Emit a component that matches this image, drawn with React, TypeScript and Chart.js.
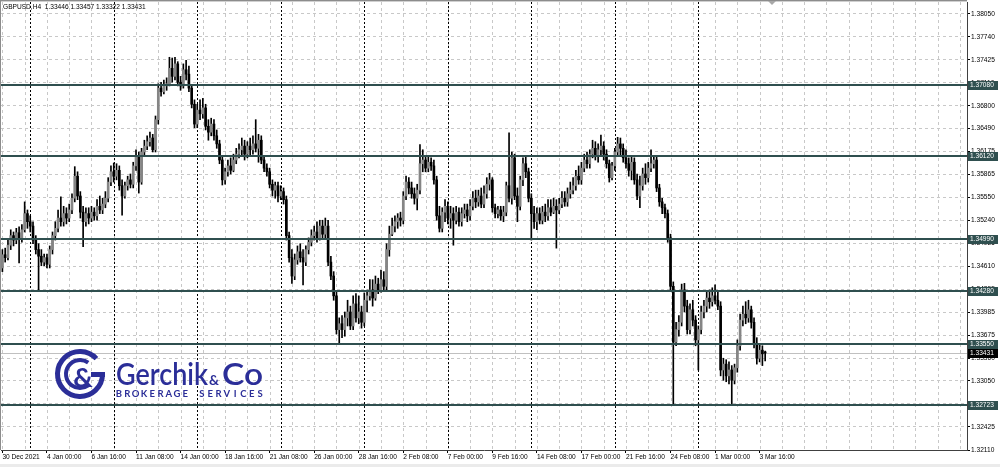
import React, { useEffect, useRef } from 'react';
import { Chart, registerables } from 'chart.js';

Chart.register(...registerables);

const titleText = 'GBPUSD,H4  1.33446 1.33457 1.33322 1.33431';

const opens = [
  1.3459,1.3477,1.3473,1.3490,1.3503,1.3497,1.3507,1.3500,1.3511,1.3533,
  1.3522,1.3516,1.3497,1.3484,1.3475,1.3467,1.3473,1.3464,1.3484,1.3503,
  1.3513,1.3527,1.3522,1.3533,1.3527,1.3538,1.3554,1.3584,1.3557,1.3535,
  1.3522,1.3533,1.3527,1.3535,1.3530,1.3543,1.3538,1.3546,1.3554,1.3576,
  1.3590,1.3584,1.3592,1.3571,1.3557,1.3571,1.3579,1.3573,1.3598,1.3612,
  1.3576,1.3617,1.3625,1.3631,1.3636,1.3620,1.3661,1.3704,1.3699,1.3707,
  1.3710,1.3731,1.3720,1.3737,1.3712,1.3707,1.3729,1.3723,1.3704,1.3682,
  1.3655,1.3674,1.3669,1.3677,1.3652,1.3644,1.3655,1.3639,1.3628,1.3606,
  1.3579,1.3590,1.3598,1.3592,1.3606,1.3614,1.3620,1.3625,1.3614,1.3625,
  1.3620,1.3628,1.3622,1.3633,1.3606,1.3595,1.3590,1.3573,1.3565,1.3571,
  1.3557,1.3563,1.3552,1.3503,1.3473,1.3448,1.3470,1.3481,1.3473,1.3467,
  1.3484,1.3494,1.3503,1.3508,1.3500,1.3516,1.3505,1.3516,1.3467,1.3448,
  1.3421,1.3375,1.3383,1.3375,1.3391,1.3399,1.3380,1.3410,1.3391,1.3399,
  1.3385,1.3415,1.3421,1.3429,1.3418,1.3437,1.3429,1.3443,1.3434,1.3484,
  1.3505,1.3516,1.3522,1.3527,1.3524,1.3557,1.3576,1.3568,1.3560,1.3554,
  1.3565,1.3601,1.3606,1.3595,1.3603,1.3598,1.3579,1.3530,1.3513,1.3535,
  1.3543,1.3527,1.3533,1.3524,1.3535,1.3522,1.3533,1.3538,1.3530,1.3543,
  1.3554,1.3549,1.3557,1.3546,1.3560,1.3573,1.3579,1.3541,1.3533,1.3538,
  1.3530,1.3535,1.3571,1.3554,1.3609,1.3557,1.3543,1.3579,1.3601,1.3590,
  1.3554,1.3533,1.3522,1.3533,1.3524,1.3535,1.3530,1.3541,1.3535,1.3543,
  1.3538,1.3546,1.3554,1.3549,1.3560,1.3565,1.3571,1.3584,1.3579,1.3595,
  1.3606,1.3601,1.3614,1.3622,1.3612,1.3620,1.3625,1.3614,1.3601,1.3582,
  1.3598,1.3617,1.3628,1.3622,1.3609,1.3601,1.3592,1.3603,1.3579,1.3557,
  1.3571,1.3587,1.3582,1.3595,1.3601,1.3606,1.3568,1.3549,1.3541,1.3533,
  1.3500,1.3434,1.3358,1.3375,1.3385,1.3429,1.3407,1.3375,1.3402,1.3388,
  1.3361,1.3375,1.3399,1.3407,1.3418,1.3413,1.3421,1.3415,1.3407,1.3320,
  1.3328,1.3312,1.3320,1.3306,1.3323,1.3353,1.3388,1.3396,1.3391,1.3402,
  1.3385,1.3356,1.3336,1.3347,1.33446,
];

const highs = [
  1.3484,1.3486,1.3497,1.3511,1.3508,1.3513,1.3515,1.3518,1.3549,1.3538,
  1.3530,1.3522,1.3503,1.3492,1.3484,1.3478,1.3478,1.3489,1.3508,1.3522,
  1.3538,1.3556,1.3543,1.3541,1.3546,1.3560,1.3597,1.3590,1.3563,1.3543,
  1.3541,1.3541,1.3543,1.3541,1.3552,1.3557,1.3554,1.3563,1.3582,1.3598,
  1.3602,1.3601,1.3598,1.3579,1.3576,1.3584,1.3587,1.3603,1.3620,1.3617,
  1.3622,1.3633,1.3639,1.3644,1.3641,1.3666,1.3710,1.3712,1.3715,1.3718,
  1.3746,1.3745,1.3746,1.3740,1.3720,1.3737,1.3742,1.3734,1.3707,1.3688,
  1.3682,1.3688,1.3690,1.3682,1.3661,1.3663,1.3661,1.3647,1.3633,1.3612,
  1.3595,1.3606,1.3609,1.3614,1.3622,1.3628,1.3636,1.3633,1.3631,1.3636,
  1.3639,1.3661,1.3641,1.3639,1.3612,1.3601,1.3595,1.3579,1.3576,1.3576,
  1.3571,1.3568,1.3557,1.3508,1.3484,1.3478,1.3489,1.3492,1.3484,1.3489,
  1.3500,1.3511,1.3516,1.3522,1.3524,1.3524,1.3527,1.3524,1.3475,1.3454,
  1.3426,1.3391,1.3394,1.3399,1.3415,1.3407,1.3421,1.3424,1.3421,1.3407,
  1.3425,1.3429,1.3443,1.3443,1.3448,1.3445,1.3456,1.3454,1.3492,1.3516,
  1.3527,1.3530,1.3533,1.3535,1.3563,1.3584,1.3582,1.3576,1.3568,1.3573,
  1.3627,1.3620,1.3612,1.3612,1.3609,1.3606,1.3584,1.3543,1.3541,1.3552,
  1.3549,1.3543,1.3541,1.3543,1.3541,1.3541,1.3546,1.3546,1.3552,1.3563,
  1.3565,1.3565,1.3568,1.3571,1.3582,1.3588,1.3582,1.3546,1.3543,1.3543,
  1.3543,1.3576,1.3643,1.3617,1.3614,1.3568,1.3584,1.3609,1.3610,1.3595,
  1.3560,1.3543,1.3541,1.3541,1.3543,1.3546,1.3552,1.3552,1.3554,1.3552,
  1.3554,1.3563,1.3563,1.3568,1.3576,1.3582,1.3592,1.3598,1.3603,1.3614,
  1.3617,1.3620,1.3633,1.3631,1.3628,1.3640,1.3631,1.3620,1.3606,1.3603,
  1.3622,1.3637,1.3636,1.3628,1.3620,1.3609,1.3612,1.3609,1.3587,1.3584,
  1.3595,1.3601,1.3603,1.3620,1.3612,1.3612,1.3573,1.3554,1.3546,1.3538,
  1.3505,1.3440,1.3385,1.3394,1.3437,1.3438,1.3415,1.3410,1.3415,1.3394,
  1.3380,1.3407,1.3415,1.3426,1.3429,1.3432,1.3436,1.3426,1.3413,1.3336,
  1.3334,1.3331,1.3326,1.3328,1.3361,1.3396,1.3407,1.3413,1.3415,1.3407,
  1.3391,1.3364,1.3356,1.3353,1.33457,
];

const lows = [
  1.3454,1.3467,1.3470,1.3484,1.3489,1.3492,1.3466,1.3494,1.3508,1.3513,
  1.3508,1.3492,1.3478,1.3429,1.3462,1.3462,1.3459,1.3459,1.3478,1.3497,
  1.3508,1.3516,1.3516,1.3519,1.3522,1.3533,1.3549,1.3552,1.3527,1.3488,
  1.3516,1.3519,1.3522,1.3524,1.3524,1.3533,1.3533,1.3541,1.3549,1.3571,
  1.3576,1.3579,1.3565,1.3531,1.3554,1.3565,1.3568,1.3568,1.3592,1.3561,
  1.3573,1.3612,1.3620,1.3625,1.3617,1.3617,1.3655,1.3693,1.3696,1.3701,
  1.3707,1.3712,1.3715,1.3707,1.3701,1.3704,1.3715,1.3699,1.3677,1.3650,
  1.3650,1.3661,1.3663,1.3647,1.3633,1.3639,1.3633,1.3622,1.3601,1.3572,
  1.3573,1.3584,1.3587,1.3590,1.3601,1.3609,1.3612,1.3606,1.3609,1.3612,
  1.3614,1.3617,1.3603,1.3601,1.3590,1.3584,1.3568,1.3557,1.3554,1.3549,
  1.3552,1.3546,1.3497,1.3467,1.3438,1.3443,1.3464,1.3467,1.3436,1.3462,
  1.3478,1.3489,1.3497,1.3494,1.3497,1.3500,1.3500,1.3462,1.3443,1.3415,
  1.3369,1.3357,1.3364,1.3366,1.3380,1.3375,1.3375,1.3385,1.3383,1.3377,
  1.3380,1.3399,1.3415,1.3407,1.3415,1.3424,1.3426,1.3429,1.3429,1.3475,
  1.3503,1.3508,1.3513,1.3516,1.3519,1.3552,1.3560,1.3554,1.3546,1.3538,
  1.3560,1.3590,1.3590,1.3590,1.3592,1.3573,1.3524,1.3508,1.3508,1.3522,
  1.3519,1.3513,1.3490,1.3519,1.3516,1.3516,1.3527,1.3522,1.3524,1.3538,
  1.3541,1.3543,1.3541,1.3541,1.3554,1.3565,1.3535,1.3527,1.3527,1.3524,
  1.3522,1.3530,1.3549,1.3546,1.3552,1.3522,1.3538,1.3571,1.3582,1.3549,
  1.3497,1.3513,1.3511,1.3519,1.3519,1.3522,1.3524,1.3530,1.3533,1.3486,
  1.3533,1.3541,1.3543,1.3543,1.3554,1.3560,1.3565,1.3573,1.3573,1.3590,
  1.3595,1.3595,1.3609,1.3606,1.3603,1.3612,1.3606,1.3595,1.3576,1.3579,
  1.3592,1.3612,1.3612,1.3603,1.3595,1.3584,1.3579,1.3573,1.3552,1.3541,
  1.3565,1.3573,1.3576,1.3590,1.3595,1.3563,1.3543,1.3533,1.3527,1.3494,
  1.3429,1.3272,1.3353,1.3366,1.3380,1.3399,1.3369,1.3369,1.3380,1.3353,
  1.3320,1.3369,1.3391,1.3399,1.3404,1.3407,1.3410,1.3402,1.3312,1.3306,
  1.3304,1.3301,1.3272,1.3301,1.3317,1.3347,1.3380,1.3383,1.3385,1.3377,
  1.3350,1.3328,1.3331,1.3326,1.33322,
];

const closes = [
  1.3477,1.3473,1.3490,1.3503,1.3497,1.3507,1.3500,1.3511,1.3533,1.3522,
  1.3516,1.3497,1.3484,1.3475,1.3467,1.3473,1.3464,1.3484,1.3503,1.3513,
  1.3527,1.3522,1.3533,1.3527,1.3538,1.3554,1.3584,1.3557,1.3535,1.3522,
  1.3533,1.3527,1.3535,1.3530,1.3543,1.3538,1.3546,1.3554,1.3576,1.3590,
  1.3584,1.3592,1.3571,1.3557,1.3571,1.3579,1.3573,1.3598,1.3612,1.3576,
  1.3617,1.3625,1.3631,1.3636,1.3620,1.3661,1.3704,1.3699,1.3707,1.3710,
  1.3731,1.3720,1.3737,1.3712,1.3707,1.3729,1.3723,1.3704,1.3682,1.3655,
  1.3674,1.3669,1.3677,1.3652,1.3644,1.3655,1.3639,1.3628,1.3606,1.3579,
  1.3590,1.3598,1.3592,1.3606,1.3614,1.3620,1.3625,1.3614,1.3625,1.3620,
  1.3628,1.3622,1.3633,1.3606,1.3595,1.3590,1.3573,1.3565,1.3571,1.3557,
  1.3563,1.3552,1.3503,1.3473,1.3448,1.3470,1.3481,1.3473,1.3467,1.3484,
  1.3494,1.3503,1.3508,1.3500,1.3516,1.3505,1.3516,1.3467,1.3448,1.3421,
  1.3375,1.3383,1.3375,1.3391,1.3399,1.3380,1.3410,1.3391,1.3399,1.3385,
  1.3415,1.3421,1.3429,1.3418,1.3437,1.3429,1.3443,1.3434,1.3484,1.3505,
  1.3516,1.3522,1.3527,1.3524,1.3557,1.3576,1.3568,1.3560,1.3554,1.3565,
  1.3601,1.3606,1.3595,1.3603,1.3598,1.3579,1.3530,1.3513,1.3535,1.3543,
  1.3527,1.3533,1.3524,1.3535,1.3522,1.3533,1.3538,1.3530,1.3543,1.3554,
  1.3549,1.3557,1.3546,1.3560,1.3573,1.3579,1.3541,1.3533,1.3538,1.3530,
  1.3535,1.3571,1.3554,1.3609,1.3557,1.3543,1.3579,1.3601,1.3590,1.3554,
  1.3533,1.3522,1.3533,1.3524,1.3535,1.3530,1.3541,1.3535,1.3543,1.3538,
  1.3546,1.3554,1.3549,1.3560,1.3565,1.3571,1.3584,1.3579,1.3595,1.3606,
  1.3601,1.3614,1.3622,1.3612,1.3620,1.3625,1.3614,1.3601,1.3582,1.3598,
  1.3617,1.3628,1.3622,1.3609,1.3601,1.3592,1.3603,1.3579,1.3557,1.3571,
  1.3587,1.3582,1.3595,1.3601,1.3606,1.3568,1.3549,1.3541,1.3533,1.3500,
  1.3434,1.3358,1.3375,1.3385,1.3429,1.3407,1.3375,1.3402,1.3388,1.3361,
  1.3375,1.3399,1.3407,1.3418,1.3413,1.3421,1.3415,1.3407,1.3320,1.3328,
  1.3312,1.3320,1.3306,1.3323,1.3353,1.3388,1.3396,1.3391,1.3402,1.3385,
  1.3356,1.3336,1.3347,1.3342,1.33431,
];

const dateTickIndices = [0, 16, 32, 48, 64, 80, 96, 112, 128, 144, 160, 176, 192, 208, 224, 240, 256, 272];
const dateTickLabels = [
  '30 Dec 2021', '4 Jan 00:00', '6 Jan 16:00', '11 Jan 08:00', '14 Jan 00:00', '18 Jan 16:00',
  '21 Jan 08:00', '26 Jan 00:00', '28 Jan 16:00', '2 Feb 08:00', '7 Feb 00:00', '9 Feb 16:00',
  '14 Feb 08:00', '17 Feb 00:00', '21 Feb 16:00', '24 Feb 08:00', '1 Mar 00:00', '3 Mar 16:00',
];
const weekStarts = [10, 40, 70, 100, 130, 160, 190, 220, 250];

const priceTicks = [
  1.38050, 1.37740, 1.37425, 1.37110, 1.36800, 1.36490, 1.36175, 1.35865, 1.35550, 1.35240,
  1.34925, 1.34610, 1.34295, 1.33985, 1.33675, 1.33360, 1.33050, 1.32740, 1.32425, 1.32110,
];
const levelPrices = [1.37080, 1.36120, 1.34990, 1.34280, 1.33550, 1.32723];
const lastPrice = 1.33431;

const TOTAL_SLOTS = 347;
const GRID_STEP = 8;
const Y_MIN = 1.32110;
const Y_MAX = 1.38213;

const BULL = '#858585';
const BEAR = '#000000';
const LEVEL_COLOR = '#2f4f4f';
const LOGO_BLUE = '#2b2e98';
const AXIS_FONT = { family: '"Liberation Sans", Arial, sans-serif', size: 6.6 };
const FONT_STR = '6.6px "Liberation Sans", Arial, sans-serif';

function fitText(ctx: CanvasRenderingContext2D, text: string, x: number, base: number, width: number, font: string) {
  ctx.font = font;
  const w = ctx.measureText(text).width;
  ctx.save();
  ctx.translate(x, base);
  ctx.scale(width / w, 1);
  ctx.textAlign = 'left';
  ctx.textBaseline = 'alphabetic';
  ctx.fillText(text, 0, 0);
  ctx.restore();
}

function drawLogo(ctx: CanvasRenderingContext2D) {
  ctx.save();
  ctx.strokeStyle = LOGO_BLUE;
  ctx.fillStyle = LOGO_BLUE;
  const cx = 80;
  const cy = 374;
  ctx.lineWidth = 5;
  ctx.beginPath();
  ctx.arc(cx, cy, 22.5, -0.24 * Math.PI, 0, true);
  ctx.stroke();
  ctx.fillRect(cx + 11, cy - 2, 14, 5);
  ctx.lineWidth = 4;
  ctx.beginPath();
  ctx.arc(cx, cy, 14, -0.3 * Math.PI, 0.3 * Math.PI, true);
  ctx.stroke();
  ctx.font = 'bold 27px Lato, "Liberation Sans", sans-serif';
  ctx.textAlign = 'center';
  ctx.textBaseline = 'alphabetic';
  ctx.fillText('&', cx + 3, cy + 13);

  fitText(ctx, 'Gerchik', 116, 385, 92, '600 30px Lato, "Liberation Sans", sans-serif');
  fitText(ctx, '&', 209, 385, 10, 'bold 13px Lato, "Liberation Sans", sans-serif');
  fitText(ctx, 'Co', 222, 385, 41, '600 30px Lato, "Liberation Sans", sans-serif');

  const sub = 'BROKERAGE SERVICES';
  ctx.font = 'bold 9.5px Lato, "Liberation Sans", sans-serif';
  ctx.textAlign = 'center';
  const step = (260 - 119) / (sub.length - 1);
  for (let i = 0; i < sub.length; i++) {
    ctx.fillText(sub[i], 119 + i * step, 397);
  }
  ctx.restore();
}

const mtPlugin = {
  id: 'mt4',
  beforeDraw(chart: any) {
    const { ctx, width, height } = chart;
    ctx.save();
    ctx.fillStyle = '#ffffff';
    ctx.fillRect(0, 0, width, height);
    ctx.fillStyle = '#ebebeb';
    ctx.fillRect(0, 464, width, height - 464);
    ctx.restore();
  },
  beforeDatasetsDraw(chart: any) {
    const { ctx, chartArea } = chart;
    const xs = chart.scales.x;
    const ys = chart.scales.y;
    const { left, right, top, bottom } = chartArea;
    ctx.save();
    ctx.beginPath();
    ctx.rect(left, top, right - left, bottom - top);
    ctx.clip();
    ctx.lineWidth = 1;
    ctx.strokeStyle = '#c8c8c8';
    ctx.setLineDash([3, 3]);
    for (let i = 0; i < TOTAL_SLOTS; i += GRID_STEP) {
      const x = Math.round(xs.getPixelForValue(i)) + 0.5;
      ctx.beginPath();
      ctx.moveTo(x, top);
      ctx.lineTo(x, bottom);
      ctx.stroke();
    }
    ctx.strokeStyle = '#000000';
    ctx.setLineDash([2, 2]);
    for (const w of weekStarts) {
      const x = Math.round(xs.getPixelForValue(w)) + 0.5;
      ctx.beginPath();
      ctx.moveTo(x, top);
      ctx.lineTo(x, bottom);
      ctx.stroke();
    }
    ctx.setLineDash([]);
    ctx.strokeStyle = '#c0c0c0';
    const yp = Math.round(ys.getPixelForValue(lastPrice)) + 0.5;
    ctx.beginPath();
    ctx.moveTo(left, yp);
    ctx.lineTo(right, yp);
    ctx.stroke();
    ctx.restore();
  },
  afterDatasetsDraw(chart: any) {
    const { ctx, chartArea } = chart;
    const ys = chart.scales.y;
    ctx.save();
    ctx.fillStyle = LEVEL_COLOR;
    for (const lv of levelPrices) {
      const y = Math.round(ys.getPixelForValue(lv));
      ctx.fillRect(chartArea.left, y - 1, chartArea.right - chartArea.left, 2);
    }
    ctx.restore();
  },
  afterDraw(chart: any) {
    const { ctx, chartArea } = chart;
    const ys = chart.scales.y;
    ctx.save();
    ctx.fillStyle = '#8c8c8c';
    ctx.fillRect(0, 0, chartArea.right, 1);
    ctx.fillRect(0, 0, 1, chartArea.bottom);
    ctx.fillStyle = '#d0d0d0';
    ctx.fillRect(1, 1, chartArea.right - 1, 1);
    ctx.fillStyle = '#a8a8a8';
    ctx.beginPath();
    ctx.moveTo(768, 1);
    ctx.lineTo(776, 1);
    ctx.lineTo(772, 5);
    ctx.closePath();
    ctx.fill();
    ctx.font = FONT_STR;
    ctx.textAlign = 'left';
    ctx.textBaseline = 'middle';
    for (const lv of levelPrices) {
      const y = Math.round(ys.getPixelForValue(lv));
      ctx.fillStyle = LEVEL_COLOR;
      ctx.fillRect(968, y - 4, 30, 9);
      ctx.fillStyle = '#ffffff';
      ctx.fillText(lv.toFixed(5), 970, y + 0.5);
    }
    const yl = Math.round(ys.getPixelForValue(lastPrice));
    ctx.fillStyle = '#000000';
    ctx.fillRect(968, yl - 4, 30, 9);
    ctx.fillStyle = '#ffffff';
    ctx.fillText(lastPrice.toFixed(5), 970, yl + 0.5);
    ctx.fillStyle = '#000000';
    ctx.fillText(titleText, 3, 7.5);
    ctx.restore();
    drawLogo(ctx);
  },
};

export default function App() {
  const ref = useRef<HTMLCanvasElement>(null);
  useEffect(() => {
    document.body.style.margin = '0';
    const canvas = ref.current;
    if (!canvas) return;
    const slotLabels = Array.from({ length: TOTAL_SLOTS }, (_, i) => {
      const k = dateTickIndices.indexOf(i);
      return k >= 0 ? dateTickLabels[k] : '';
    });
    const wickData = lows.map((l, i) => [l, highs[i]]);
    const bodyData = opens.map((o, i) => [o, closes[i]]);
    const bodyColors = opens.map((o, i) => (closes[i] >= o ? BULL : BEAR));

    const chart = new Chart(canvas, {
      type: 'bar',
      data: {
        labels: slotLabels,
        datasets: [
          {
            label: 'body',
            data: bodyData as any,
            backgroundColor: bodyColors,
            borderWidth: 0,
            barThickness: 2,
            minBarLength: 1,
            grouped: false,
            order: 1,
          } as any,
          {
            label: 'wick',
            data: wickData as any,
            backgroundColor: '#000000',
            borderWidth: 0,
            barThickness: 1,
            grouped: false,
            order: 2,
          } as any,
        ],
      },
      options: {
        animation: false,
        responsive: false,
        maintainAspectRatio: false,
        devicePixelRatio: 1,
        layout: { padding: { left: 1, top: 2, right: 0, bottom: 0 } },
        plugins: { legend: { display: false }, tooltip: { enabled: false } },
        events: [],
        scales: {
          x: {
            type: 'category',
            offset: true,
            afterBuildTicks: (s: any) => {
              s.ticks = dateTickIndices.map((v) => ({ value: v }));
            },
            afterFit: (s: any) => {
              s.height = 17;
              s.paddingLeft = 0;
              s.paddingRight = 0;
            },
            ticks: {
              autoSkip: false,
              maxRotation: 0,
              minRotation: 0,
              align: 'start',
              padding: 0,
              color: '#000000',
              font: AXIS_FONT,
              callback: (v: any) => slotLabels[v],
            },
            grid: {
              offset: false,
              drawOnChartArea: false,
              drawTicks: true,
              tickLength: 3,
              tickColor: '#000000',
              tickBorderDash: [],
            },
            border: { display: true, color: '#404040', width: 1 },
          } as any,
          y: {
            type: 'linear',
            position: 'right',
            min: Y_MIN,
            max: Y_MAX,
            afterBuildTicks: (s: any) => {
              s.ticks = priceTicks.map((v) => ({ value: v }));
            },
            afterFit: (s: any) => {
              s.width = 33;
              s.paddingTop = 0;
              s.paddingBottom = 0;
            },
            ticks: {
              padding: 1,
              color: '#000000',
              font: AXIS_FONT,
              callback: (v: any) => Number(v).toFixed(5),
            },
            grid: {
              color: '#c8c8c8',
              lineWidth: 1,
              drawTicks: true,
              tickLength: 3,
              tickColor: '#000000',
              tickBorderDash: [],
            },
            border: { display: true, color: '#404040', width: 1, dash: [3, 3] },
          } as any,
        },
      },
      plugins: [mtPlugin],
    });
    return () => chart.destroy();
  }, []);
  return <canvas ref={ref} width={1000} height={467} style={{ display: 'block' }} />;
}
